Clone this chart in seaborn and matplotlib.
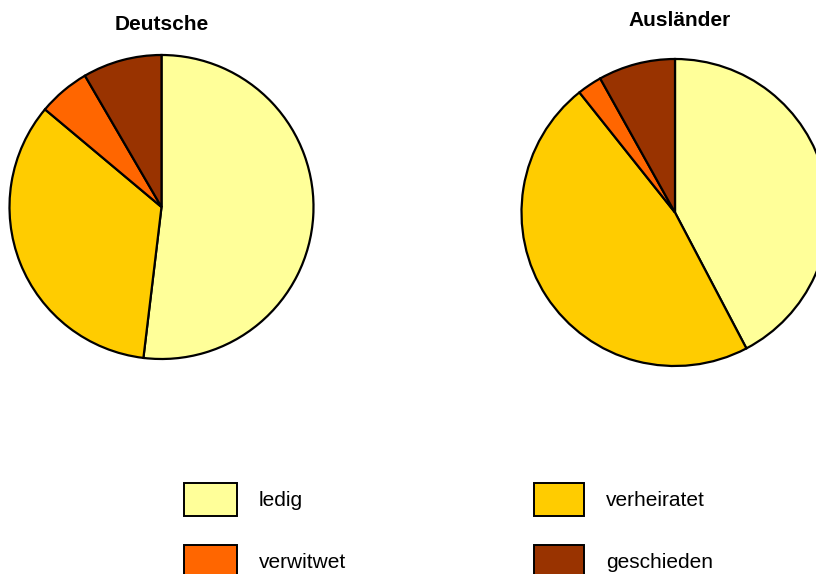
import matplotlib
matplotlib.use("Agg")
import matplotlib.pyplot as plt
from matplotlib.patches import Patch
import seaborn as sns

# Familienstand, Anteile
categories = ["ledig", "verheiratet", "verwitwet", "geschieden"]
deutsche = [0.519, 0.342, 0.055, 0.084]
auslaender = [0.423, 0.470, 0.026, 0.081]
titles = ["Deutsche", "Ausländer"]
colors = ["#FFFF99", "#FFCC00", "#FF6600", "#993300"]

sns.set_style("white")
plt.rcParams['font.family'] = ['Liberation Sans', 'DejaVu Sans']
plt.rcParams['text.color'] = 'black'

W, H = 816, 574
fig = plt.figure(figsize=(W / 100, H / 100), dpi=100)

def px_axes(cx, cy, r):
    r = r * 1.01
    return fig.add_axes([(cx - r) / W, 1 - (cy + r) / H, 2 * r / W, 2 * r / H])

ax1 = px_axes(161.5, 207, 152)
ax2 = px_axes(675, 212.5, 153.5)

for ax, vals in [(ax1, deutsche), (ax2, auslaender)]:
    ax.pie(vals, colors=colors, startangle=90, counterclock=False,
           wedgeprops=dict(edgecolor='black', linewidth=1.6))
    ax.set_xlim(-1.01, 1.01)
    ax.set_ylim(-1.01, 1.01)
    ax.set_axis_off()

fig.text(162 / W, 1 - 25 / H, titles[0], ha='center', va='center',
         fontsize=15, fontweight='bold')
fig.text(680 / W, 1 - 21 / H, titles[1], ha='center', va='center',
         fontsize=15, fontweight='bold')

# Legende: zwei Spalten
handles = [Patch(facecolor=c, edgecolor='black', linewidth=1.4) for c in colors]
fs = 15
fspx = fs * 100 / 72
box_h = 33
hh = (box_h / fspx - 0.245) / 0.65
leg_kw = dict(loc='upper left', frameon=False, fontsize=fs, borderpad=0,
              handleheight=hh, handletextpad=22 / fspx,
              labelspacing=(72 - hh * fspx) / fspx, borderaxespad=0)
top = 482.5
leg1 = fig.legend([handles[0], handles[2]], [categories[0], categories[2]],
                  bbox_to_anchor=(184 / W, 1 - top / H),
                  handlelength=53 / fspx, **leg_kw)
leg2 = fig.legend([handles[1], handles[3]], [categories[1], categories[3]],
                  bbox_to_anchor=(533.5 / W, 1 - top / H),
                  handlelength=50.5 / fspx, **leg_kw)

fig.savefig("out.png", dpi=100)
